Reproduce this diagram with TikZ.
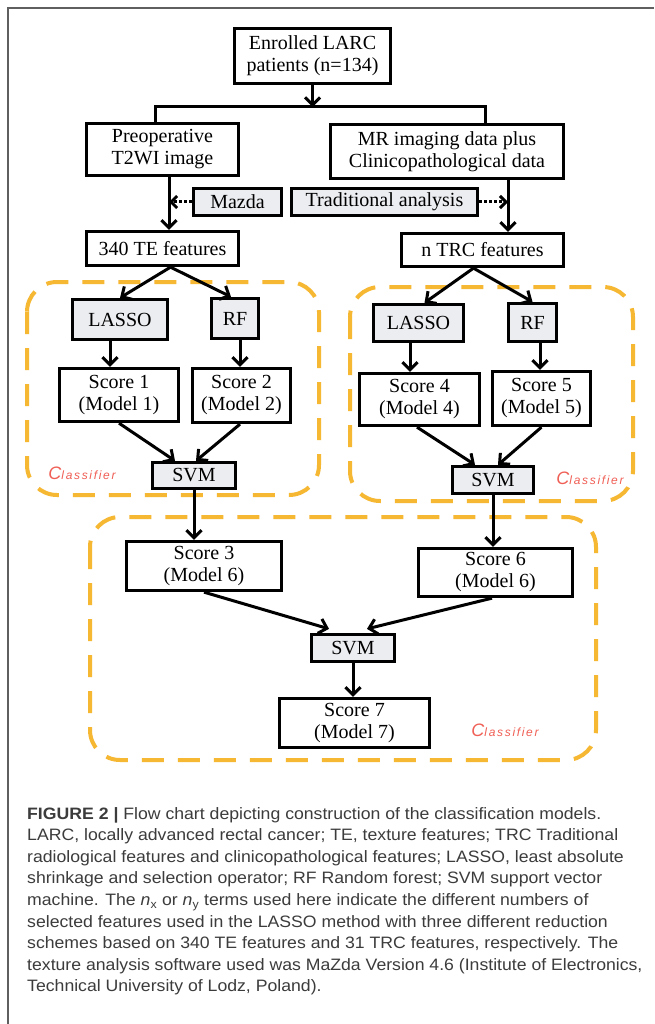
\documentclass[tikz,border=0pt]{standalone}
\usepackage{fontspec}
\setmainfont{Liberation Serif}
\newfontfamily\capfont[FakeStretch=1.07]{Liberation Sans}
\newfontfamily\clsfont[LetterSpace=14]{Liberation Sans}
\usetikzlibrary{arrows.meta}
\definecolor{orng}{RGB}{246,184,50}
\definecolor{gfill}{RGB}{236,237,241}
\definecolor{clsred}{RGB}{240,95,85}
\definecolor{captxt}{RGB}{60,60,60}
\definecolor{frm}{RGB}{95,95,95}
\begin{document}
\begin{tikzpicture}[x=1pt,y=-1pt,
  bx/.style={draw,line width=3.3pt,inner sep=0pt,align=center,font=\fontsize{20}{22}\selectfont},
  gbx/.style={bx,fill=gfill},
  ln/.style={line width=3pt},
  arr/.style={ln,-{Straight Barb[length=7.5pt,width=15pt]}},
  darr/.style={line width=3pt,dotted,-{Straight Barb[length=6pt,width=12pt]}},
  grp/.style={draw=orng,line width=4pt,dash pattern=on 22pt off 14pt,rounded corners=30pt},
  cls/.style={text=clsred,inner sep=0pt,font=\clsfont\itshape\fontsize{12}{12}\selectfont},
  captext/.style={anchor=base west,inner sep=0pt,text=captxt,font=\capfont\fontsize{16.5}{16.5}\selectfont}
]
\useasboundingbox (0,0) rectangle (654,1024);
\fill[white] (0,0) rectangle (654,1024);
\draw[frm,line width=1.6pt] (8,1024) -- (8,8) -- (654,8);

% dashed groups
\draw[grp] (27,282) rectangle (319,495);
\draw[grp] (350,287) rectangle (633,501);
\draw[grp] (90,517) rectangle (596,760);

% nodes
\node[bx,minimum width=156pt,minimum height=55pt] (enr) at (312.5,56) {Enrolled LARC\\patients (n=134)};
\node[bx,minimum width=152pt,minimum height=52pt] (pre) at (162.5,149.5) {Preoperative\\T2WI image};
\node[bx,minimum width=233pt,minimum height=54pt] (mr) at (447,151.5) {MR imaging data plus\\Clinicopathological data};
\node[gbx,minimum width=88pt,minimum height=27pt] (mazda) at (237.5,202) {Mazda};
\node[gbx,minimum width=186pt,minimum height=27pt] (trad) at (384.5,202) {Traditional analysis};
\node[bx,minimum width=152pt,minimum height=34pt] (te) at (162.5,248.5) {340 TE features};
\node[bx,minimum width=162pt,minimum height=33pt] (trc) at (482.5,250) {n TRC features};
\node[gbx,minimum width=95pt,minimum height=40pt] (lassoL) at (120,319.5) {LASSO};
\node[gbx,minimum width=47pt,minimum height=40pt] (rfL) at (235,318.5) {RF};
\node[bx,minimum width=119pt,minimum height=53pt] (s1) at (119,395) {Score 1\\(Model 1)};
\node[bx,minimum width=98pt,minimum height=54pt] (s2) at (241.5,395.5) {Score 2\\(Model 2)};
\node[gbx,minimum width=83pt,minimum height=26pt] (svmL) at (194,475.5) {SVM};
\node[gbx,minimum width=90pt,minimum height=37pt] (lassoR) at (418.5,323) {LASSO};
\node[gbx,minimum width=48pt,minimum height=38pt] (rfR) at (532.5,322.5) {RF};
\node[bx,minimum width=120pt,minimum height=52pt] (s4) at (419.5,399.5) {Score 4\\(Model 4)};
\node[bx,minimum width=98pt,minimum height=54pt] (s5) at (541.5,398.5) {Score 5\\(Model 5)};
\node[gbx,minimum width=81pt,minimum height=27pt] (svmR) at (493,480) {SVM};
\node[bx,minimum width=155pt,minimum height=49pt] (s3) at (204,566) {Score 3\\(Model 6)};
\node[bx,minimum width=154pt,minimum height=48pt] (s6) at (495.5,572.5) {Score 6\\(Model 6)};
\node[gbx,minimum width=83pt,minimum height=27pt] (svmB) at (353,648) {SVM};
\node[bx,minimum width=150pt,minimum height=49pt] (s7) at (354.5,723) {Score 7\\(Model 7)};

% classifier labels
\node[cls] (clsL) at (82,473) {{\fontsize{18}{18}\selectfont C}lassifier};
\node[cls] (clsR) at (590,478) {{\fontsize{18}{18}\selectfont C}lassifier};
\node[cls] (clsB) at (505,730) {{\fontsize{18}{18}\selectfont C}lassifier};

% coordinates
\coordinate (jc) at (312.5,107);
\coordinate (jl) at (155,107);
\coordinate (jr) at (485,107);
\coordinate (vl) at (169,0);
\coordinate (vr) at (508,0);

% connectors
\draw[arr] (enr) -- (jc);
\draw[ln] (jl|-pre.north) -- (jl) -- (jr) -- (jr|-mr.north);
\draw[arr] (vl|-pre.south) -- (vl|-te.north);
\draw[arr] (vr|-mr.south) -- (vr|-trc.north);
\draw[darr] (mazda.west) -- (mazda.west-|vl);
\draw[darr] (trad.east) -- (trad.east-|vr);

\draw[arr] ([xshift=8pt]te.south) -- (lassoL.north);
\draw[arr] ([xshift=8pt]te.south) -- ([xshift=-4pt]rfL.north);
\draw[arr] ([xshift=-9pt]trc.south) -- ([xshift=6pt]lassoR.north);
\draw[arr] ([xshift=-9pt]trc.south) -- (rfR.north);

\draw[arr] ([xshift=-10pt]lassoL.south) -- ([xshift=-9pt]s1.north);
\draw[arr] ([xshift=5pt]rfL.south) -- ([xshift=-1.5pt]s2.north);
\draw[arr] ([xshift=-8.5pt]lassoR.south) -- ([xshift=-9.5pt]s4.north);
\draw[arr] ([xshift=7.5pt]rfR.south) -- ([xshift=-1.5pt]s5.north);

\draw[arr] (s1.south) -- ([xshift=-19pt]svmL.north);
\draw[arr] ([xshift=-1.5pt]s2.south) -- ([xshift=2pt]svmL.north);
\draw[arr] ([xshift=-2.5pt]s4.south) -- ([xshift=-18pt]svmR.north);
\draw[arr] (s5.south) -- ([xshift=5pt]svmR.north);

\draw[arr] (svmL.south) -- (svmL.south|-s3.north);
\draw[arr] (svmR.south) -- (svmR.south|-s6.north);
\draw[arr] (s3.south) -- ([xshift=-24pt,yshift=4pt]svmB.north);
\draw[arr] ([xshift=-3.5pt]s6.south) -- ([xshift=14pt,yshift=4pt]svmB.north);
\draw[arr] (svmB.south) -- (svmB.south|-s7.north);

% caption
\node[captext] (c1) at (27,819) {\textbf{FIGURE 2 |} Flow chart depicting construction of the classification models.};
\node[captext] (c2) at (27,840.6) {LARC, locally advanced rectal cancer; TE, texture features; TRC Traditional};
\node[captext] (c3) at (27,862.2) {radiological features and clinicopathological features; LASSO, least absolute};
\node[captext] (c4) at (27,883.8) {shrinkage and selection operator; RF Random forest; SVM support vector};
\node[captext] (c5) at (27,905.4) {machine. The {\itshape n}\textsubscript{x} or {\itshape n}\textsubscript{y} terms used here indicate the different numbers of};
\node[captext] (c6) at (27,927) {selected features used in the LASSO method with three different reduction};
\node[captext] (c7) at (27,948.6) {schemes based on 340 TE features and 31 TRC features, respectively. The};
\node[captext] (c8) at (27,970.2) {texture analysis software used was MaZda Version 4.6 (Institute of Electronics,};
\node[captext] (c9) at (27,991.8) {Technical University of Lodz, Poland).};
\end{tikzpicture}
\end{document}
